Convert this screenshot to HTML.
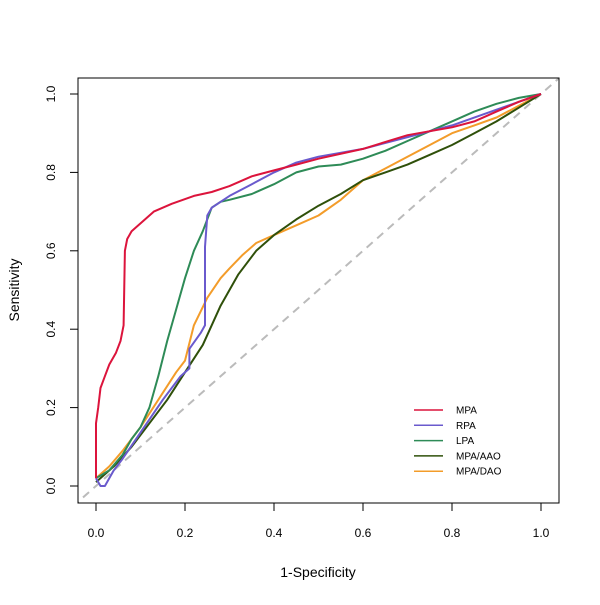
<!DOCTYPE html>
<html><head><meta charset="utf-8"><style>
body{margin:0;background:#fff}
svg text{font-family:"Liberation Sans",Arial,sans-serif;fill:#000}
</style></head><body>
<svg id="chart" width="600" height="600" viewBox="0 0 600 600" xmlns="http://www.w3.org/2000/svg">
<rect width="600" height="600" fill="#fff"/>
<defs><clipPath id="clip"><rect x="78" y="78" width="481" height="425"/></clipPath></defs>
<g id="diag" clip-path="url(#clip)"></g>
<g id="series" clip-path="url(#clip)"></g>
<rect x="78" y="78" width="481" height="425" fill="none" stroke="#000" stroke-width="1"/>
<g id="axes"></g>
<text x="318" y="577" font-size="14" text-anchor="middle">1-Specificity</text>
<text x="19" y="290" font-size="14" text-anchor="middle" transform="rotate(-90 19 290)">Sensitivity</text>
<g id="legend"></g>
</svg>
<script>
const ticks=[0,0.2,0.4,0.6,0.8,1.0];
const tickLabels=["0.0","0.2","0.4","0.6","0.8","1.0"];
const seriesNames=["MPA","RPA","LPA","MPA/AAO","MPA/DAO"];
const seriesColors=["#DC143C","#6A5ACD","#2E8B57","#2F500A","#F39C2A"];
const mpaFpr=[0,0,0.005,0.01,0.02,0.03,0.045,0.055,0.062,0.065,0.07,0.08,0.09,0.1,0.13,0.17,0.22,0.26,0.3,0.35,0.4,0.45,0.5,0.6,0.7,0.75,0.8,0.85,0.9,0.95,1];
const mpaTpr=[0.02,0.16,0.2,0.25,0.28,0.31,0.34,0.37,0.41,0.6,0.63,0.65,0.66,0.67,0.7,0.72,0.74,0.75,0.765,0.79,0.805,0.82,0.835,0.86,0.895,0.905,0.915,0.93,0.955,0.98,1];
const rpaFpr=[0,0.01,0.02,0.04,0.06,0.09,0.12,0.15,0.17,0.19,0.21,0.21,0.235,0.245,0.245,0.25,0.26,0.3,0.35,0.4,0.45,0.5,0.6,0.7,0.8,0.9,1];
const rpaTpr=[0.02,0,0,0.04,0.07,0.12,0.17,0.22,0.25,0.28,0.3,0.35,0.39,0.41,0.61,0.69,0.71,0.74,0.77,0.8,0.825,0.84,0.86,0.89,0.92,0.96,1];
const lpaFpr=[0,0.03,0.06,0.08,0.1,0.12,0.14,0.16,0.18,0.2,0.22,0.24,0.26,0.28,0.3,0.35,0.4,0.45,0.5,0.55,0.6,0.65,0.7,0.75,0.8,0.85,0.9,0.95,1];
const lpaTpr=[0.02,0.04,0.08,0.12,0.15,0.2,0.28,0.37,0.45,0.53,0.6,0.65,0.71,0.725,0.73,0.745,0.77,0.8,0.815,0.82,0.835,0.855,0.88,0.905,0.93,0.955,0.975,0.99,1];
const aaoFpr=[0,0.04,0.08,0.12,0.16,0.2,0.24,0.28,0.32,0.36,0.4,0.45,0.5,0.55,0.6,0.65,0.7,0.75,0.8,0.85,0.9,0.95,1];
const aaoTpr=[0.01,0.05,0.1,0.16,0.22,0.29,0.36,0.46,0.54,0.6,0.64,0.68,0.715,0.745,0.78,0.8,0.82,0.845,0.87,0.9,0.93,0.965,1];
const daoFpr=[0,0.03,0.06,0.1,0.14,0.18,0.2,0.22,0.25,0.28,0.3,0.33,0.36,0.4,0.45,0.5,0.55,0.6,0.65,0.7,0.75,0.8,0.85,0.9,0.95,1];
const daoTpr=[0.02,0.05,0.09,0.15,0.22,0.29,0.32,0.41,0.48,0.53,0.555,0.59,0.62,0.64,0.665,0.69,0.73,0.78,0.81,0.84,0.87,0.9,0.92,0.94,0.97,1];
const seriesFpr=[mpaFpr,rpaFpr,lpaFpr,aaoFpr,daoFpr];
const seriesTpr=[mpaTpr,rpaTpr,lpaTpr,aaoTpr,daoTpr];

const NS="http://www.w3.org/2000/svg";
const sx=v=>96+v*445, sy=v=>486-v*392;
function mk(tag,attrs,parent){const e=document.createElementNS(NS,tag);for(const k in attrs)e.setAttribute(k,attrs[k]);parent.appendChild(e);return e;}
const diag=document.getElementById('diag');
const d=mk('line',{x1:sx(-0.1),y1:sy(-0.1),x2:sx(1.1),y2:sy(1.1),stroke:'#bbb','stroke-width':2,'stroke-dasharray':'8,6'},diag);


const sg=document.getElementById('series');
for(let i=seriesNames.length-1;i>=0;i--){
  const pts=seriesFpr[i].map((x,j)=>sx(x).toFixed(1)+','+sy(seriesTpr[i][j]).toFixed(1)).join(' ');
  const p=mk('polyline',{points:pts,fill:'none',stroke:seriesColors[i],'stroke-width':2,'stroke-linejoin':'round'},sg);
  
  
}
const ax=document.getElementById('axes');
ticks.forEach((t,i)=>{
  const a=mk('line',{x1:sx(t),y1:503,x2:sx(t),y2:511,stroke:'#000'},ax);
  
  
  const tx=mk('text',{x:sx(t),y:537,'font-size':12,'text-anchor':'middle'},ax);tx.textContent=tickLabels[i];
  
  
  const b=mk('line',{x1:70,y1:sy(t),x2:78,y2:sy(t),stroke:'#000'},ax);
  
  
  const ty=mk('text',{x:55,y:sy(t),'font-size':12,'text-anchor':'middle',transform:`rotate(-90 55 ${sy(t)})`},ax);ty.textContent=tickLabels[i];
  
  
});
const lg=document.getElementById('legend');
seriesNames.forEach((n,i)=>{
  const y=410+i*15.3;
  const l=mk('line',{x1:414,y1:y,x2:443,y2:y,stroke:seriesColors[i],'stroke-width':1.5},lg);
  
  
  const t=mk('text',{x:456,y:y+3.5,'font-size':10},lg);t.textContent=n;
  
  
});
</script>
</body></html>
